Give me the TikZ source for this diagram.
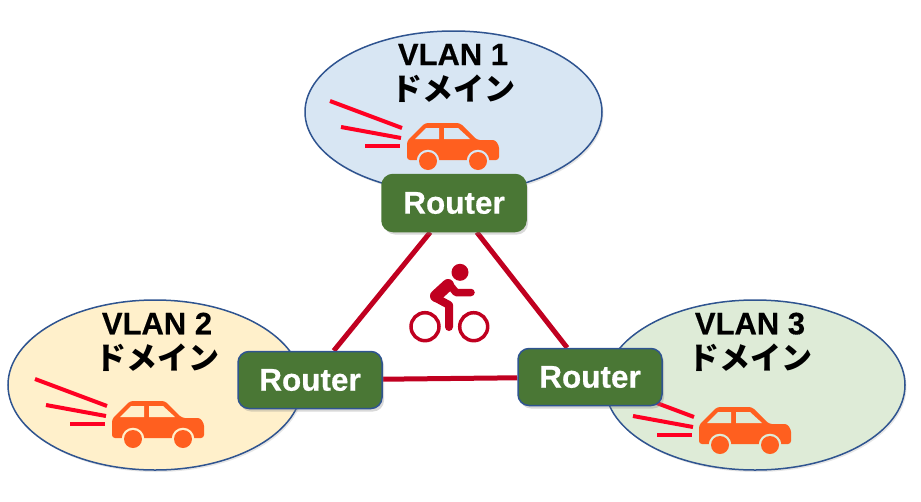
\documentclass[tikz,border=0pt]{standalone}
\usepackage{fontspec}
\setmainfont[BoldFeatures={FakeBold=0.4}]{Liberation Sans}
\newfontfamily\jpfont{Noto Sans CJK JP}
\usetikzlibrary{shapes.geometric,shadows,backgrounds}
\definecolor{linkred}{HTML}{C00020}
\definecolor{speedred}{HTML}{FF0022}
\definecolor{carorange}{HTML}{FF5F1F}
\definecolor{rtgreen}{HTML}{4A7735}
\definecolor{edgeblue}{HTML}{2F5490}
\definecolor{fillblue}{HTML}{D8E6F3}
\definecolor{fillyellow}{HTML}{FFF0CB}
\definecolor{fillgreen}{HTML}{DEEBD7}

\begin{document}
\begin{tikzpicture}[
    x=1pt, y=-1pt,
    dom/.style={ellipse, draw=edgeblue, line width=1.5pt, inner sep=0pt,
        drop shadow={shadow xshift=1.5pt, shadow yshift=-2pt, opacity=0.2}},
    lbl/.style={align=center, font=\fontsize{31}{35}\selectfont\bfseries},
    rt/.style={draw=#1, line width=1.5pt, fill=rtgreen, rounded corners=11pt, text=white,
        minimum width=144pt, minimum height=57pt, inner sep=0pt,
        font=\fontsize{31.5}{34}\selectfont\bfseries,
        drop shadow={shadow xshift=2pt, shadow yshift=-3pt, opacity=0.3}},
    link/.style={draw=linkred, line width=5pt},
    speed/.style={draw=speedred, line width=4pt},
    pics/car/.style={code={
        \fill[carorange, rounded corners=3pt] (0,37) -- (0,18) -- (18,0) -- (53,0) -- (70,17)
            -- (83,17) .. controls (89,17) and (92,22) .. (92,28) -- (92,37) -- cycle;
        \fill[#1] (8,16) -- (32,16) -- (32,5) -- (19,5) -- cycle;
        \fill[#1] (37,5) -- (51,5) -- (63,16) -- (37,16) -- cycle;
        % wheels sit in a cut-out of the body
        \fill[#1] (21,38) circle (11.3) (71,38) circle (11.3);
        \fill[#1] (0,38) rectangle (92,47.5);
        \fill[carorange] (21,38) circle (9) (71,38) circle (9);
    }},
    pics/trail/.style={code={
        \draw[speed] (-77,-22) -- (-5,5);
        \draw[speed] (-66,4) -- (-6,15);
        \draw[speed] (-42,23) -- (-7,23);
    }}
]
\useasboundingbox (0,0) rectangle (921,501);

% domains
\node[dom, fill=fillblue, minimum width=297pt, minimum height=162pt] (vlana) at (453.5,112) {};
\node[dom, fill=fillyellow, minimum width=294pt, minimum height=170pt] (vlanb) at (155,385) {};
\node[dom, fill=fillgreen, minimum width=300pt, minimum height=170pt] (vlanc) at (755,385) {};

\node[lbl] (lbla) at (453,73) {VLAN 1\\{\jpfont ドメイン}};
\node[lbl] (lblb) at (157,342) {VLAN 2\\{\jpfont ドメイン}};
\node[lbl] (lblc) at (750,342) {VLAN 3\\{\jpfont ドメイン}};

% cars
\pic (cara) at (407,123) {car=fillblue};
\pic (trla) at (407,123) {trail};
\pic (carb) at (112,401) {car=fillyellow};
\pic (trlb) at (112,401) {trail};
\pic (carc) at (699,407) {car=fillgreen};
\pic (trlc) at (699,412) {trail};

% bicycle
\fill[linkred] (460,272.3) circle (8.5);
\draw[linkred, line width=3.5pt] (425,326.7) circle (14) (473.7,326.7) circle (14);
\draw[linkred, line width=12pt, line cap=round] (436,296) -- (448,285);
\draw[linkred, line width=7.5pt, line cap=round, line join=round]
    (449,284) -- (456,292.5) -- (471,292.5);
\draw[linkred, line width=8pt, line cap=round, line join=round]
    (436,298) -- (449,305) -- (449,327);

% routers
\node[rt=rtgreen] (rta) at (454,203) {Router};
\node[rt=edgeblue] (rtb) at (310,380) {Router};
\node[rt=edgeblue] (rtc) at (590,377) {Router};

\begin{scope}[on background layer]
\draw[link] (rta) -- (rtb);
\draw[link] (rta) -- (rtc);
\draw[link] (rtb) -- (rtc);
\end{scope}
\end{tikzpicture}
\end{document}
